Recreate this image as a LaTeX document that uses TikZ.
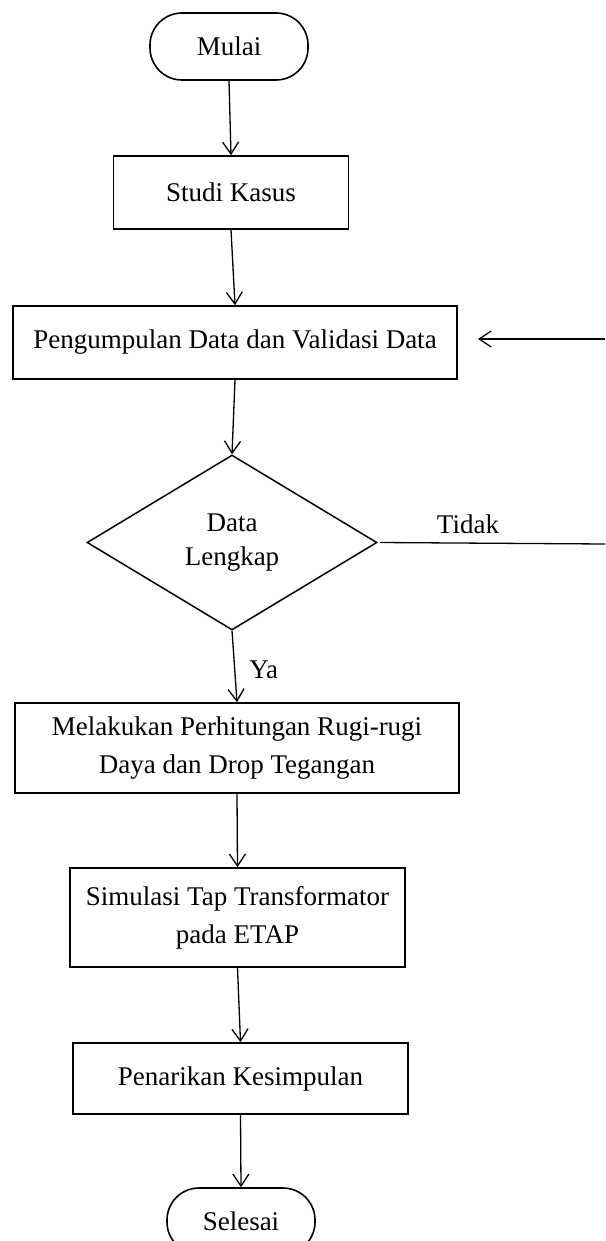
\documentclass[tikz,border=0pt]{standalone}
\usepackage{fontspec}
\setmainfont{Liberation Serif}
\usetikzlibrary{arrows.meta,shapes.geometric}
\begin{document}
\begin{tikzpicture}[x=1pt,y=-1pt,
  box/.style={draw,line width=1.6pt,inner sep=0pt,align=center,font=\fontsize{27}{38}\selectfont},
  term/.style={box,rounded corners=32pt},
  dec/.style={draw,diamond,line width=1.5pt,inner sep=0pt,aspect=1.66,align=center,font=\fontsize{27}{34}\selectfont},
  arr/.style={line width=1.3pt,-{Straight Barb[length=12pt,width=16pt,line width=1.3pt]}},
  plain/.style={line width=1.3pt},
  lbl/.style={font=\fontsize{27}{32}\selectfont,inner sep=0pt}]
\useasboundingbox (0,0) rectangle (605,1241);
\node[term,minimum width=158pt,minimum height=67pt] (mulai) at (229,46.5) {Mulai};
\node[box,minimum width=235pt,minimum height=73pt] (studi) at (231,192.5) {Studi Kasus};
\node[box,minimum width=444pt,minimum height=73pt] (kumpul) at (235,342.5) {Pengumpulan Data dan Validasi Data};
\node[dec,minimum width=290pt,minimum height=175pt] (cek) at (232,542.5) {Data\\Lengkap};
\node[box,minimum width=444pt,minimum height=90pt] (hitung) at (237,748) {Melakukan Perhitungan Rugi-rugi\\Daya dan Drop Tegangan};
\node[box,minimum width=335pt,minimum height=99pt] (simul) at (237.5,917.5) {Simulasi Tap Transformator\\pada ETAP};
\node[box,minimum width=335pt,minimum height=71pt] (tarik) at (240.5,1078.5) {Penarikan Kesimpulan};
\node[term,minimum width=148pt,minimum height=66pt] (selesai) at (241,1221) {Selesai};
\coordinate (fbR) at (605,339);
\coordinate (fbL) at (478,339);
\coordinate (tR) at (605,544);
\draw[arr] (mulai.south) -- (studi.north);
\draw[arr] (studi.south) -- (kumpul.north);
\draw[arr] (kumpul.south) -- (cek.north);
\draw[arr] (cek.south) -- node[lbl,right=14pt,pos=0.55] (ya) {Ya} (hitung.north);
\draw[arr] (hitung.south) -- (simul.north);
\draw[arr] (simul.south) -- (tarik.north);
\draw[arr] (tarik.south) -- (selesai.north);
\draw[arr] (fbR) -- (fbL);
\draw[plain] ([xshift=2pt]cek.east) -- (tR);
\node[lbl] (tidak) at (468,524) {Tidak};
\end{tikzpicture}
\end{document}
